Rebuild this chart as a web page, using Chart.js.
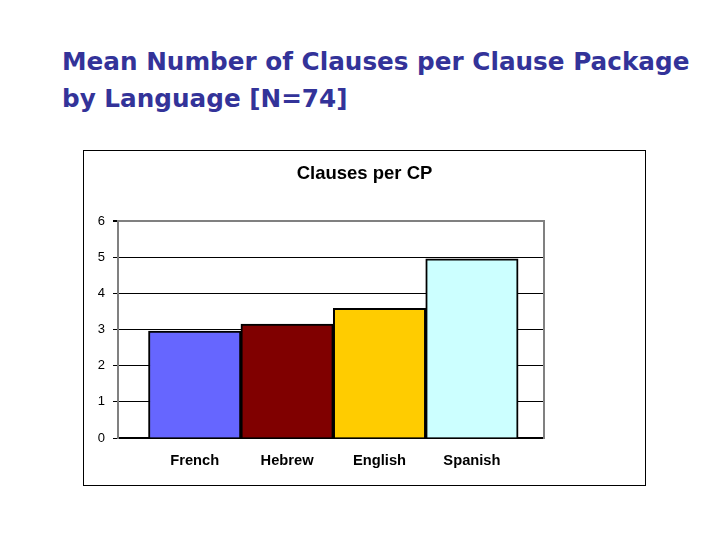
<!DOCTYPE html>
<html>
<head>
<meta charset="utf-8">
<script src="https://cdn.jsdelivr.net/npm/chart.js@4"></script>
<style>
  body { margin: 0; background: #fff; width: 720px; height: 540px; position: relative; overflow: hidden; }
  #heading {
    position: absolute; left: 62px; top: 43px;
    font-family: "DejaVu Sans", Verdana, sans-serif; font-weight: bold;
    font-size: 24.7px; line-height: 37px; color: #333399; white-space: nowrap;
  }
  #box {
    position: absolute; left: 83px; top: 150px; width: 561px; height: 334px;
    border: 1px solid #000; background: #fff;
  }
</style>
</head>
<body>
<div id="heading">Mean Number of Clauses per Clause Package<br>by Language [N=74]</div>
<div id="box"><canvas id="chart"></canvas></div>
<script>
// data
const languages = ["French", "Hebrew", "English", "Spanish"];
const clausesPerCP = [2.96, 3.15, 3.59, 4.96];
const barColors = ["#6666FF", "#800000", "#FFCC00", "#CCFFFF"];
const yTicks = [0, 1, 2, 3, 4, 5, 6];

const ctx = document.getElementById("chart").getContext("2d");
const chart = new Chart(ctx, {
    type: "bar",
    data: {
        datasets: [{
            label: "Clauses per CP",
            data: languages.map((lang, i) => ({ x: i + 1, y: clausesPerCP[i] })),
            backgroundColor: barColors,
            borderColor: "#000",
            borderWidth: 2,
            barPercentage: 1,
            categoryPercentage: 1
        }]
    },
    options: {
        responsive: true,
        maintainAspectRatio: false,
        animation: false,
        layout: { padding: { top: 12, left: 0, right: 0, bottom: 0 } },
        plugins: {
            legend: { display: false },
            tooltip: { enabled: false },
            title: {
                display: true,
                text: "Clauses per CP",
                color: "#000",
                font: { family: "Liberation Sans, Arial, sans-serif", size: 18.5, weight: "bold" },
                padding: { top: 0, bottom: 36 }
            }
        },
        scales: {
            x: {
                type: "linear",
                offset: false,
                min: 0.17,
                max: 4.78,
                afterBuildTicks: (scale) => { scale.ticks = languages.map((l, i) => ({ value: i + 1 })); },
                afterFit: (scale) => { scale.height = 47; },
                grid: { display: true, drawOnChartArea: false, drawTicks: false, offset: false },
                border: { color: "#000", width: 2 },
                ticks: {
                    padding: 14,
                    color: "#000",
                    font: { family: "Liberation Sans, Arial, sans-serif", size: 14.7, weight: "bold" },
                    callback: (v) => languages[v - 1]
                }
            },
            y: {
                min: 0,
                max: 6,
                afterBuildTicks: (scale) => { scale.ticks = yTicks.map(v => ({ value: v })); },
                afterFit: (scale) => { scale.width = 34; },
                grid: {
                    color: (c) => c.tick && c.tick.value === 6 ? "#808080" : "#000",
                    lineWidth: (c) => c.tick && c.tick.value === 6 ? 2 : 1,
                    tickColor: "#000",
                    tickLength: 5
                },
                border: { color: "#808080", width: 2 },
                ticks: {
                    padding: 8,
                    color: "#000",
                    font: { family: "Liberation Sans, Arial, sans-serif", size: 13 }
                }
            },
            // right edge of the plot frame; also keeps the empty band on the right
            yRight: {
                position: "right",
                min: 0,
                max: 6,
                afterFit: (scale) => { scale.width = 101; },
                grid: { display: false },
                border: { display: true, color: "#808080", width: 2 },
                ticks: { display: false }
            }
        }
    }
});
</script>
</body>
</html>
